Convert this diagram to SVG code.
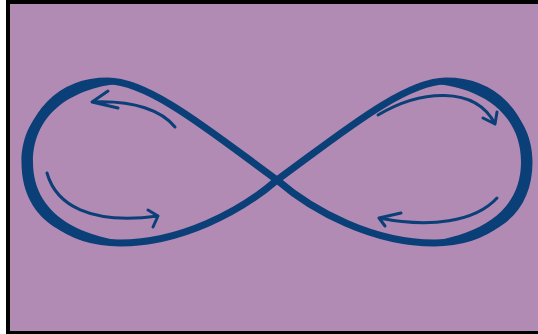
<svg xmlns="http://www.w3.org/2000/svg" xmlns:xlink="http://www.w3.org/1999/xlink" width="538" height="334" viewBox="0 0 538 334">
  <style>
    .loop{fill:none;stroke:#0b3f78;stroke-width:7;stroke-linecap:round;stroke-linejoin:round}
    .fill{fill:#0b3f78;stroke:none}
    .arr{fill:none;stroke:#0b3f78;stroke-width:3;stroke-linecap:round;stroke-linejoin:round}
  </style>
  <defs>
    <g id="half">
      <path class="loop" d="M277,180 C215,135 150,81 108,81 C60,81 27.5,115 27.5,162 C27.5,215 70,243 120,243 C180,243 240,212 277,180"/>
      <path class="fill" d="M135,82.5 C85,73 21.5,100 21.5,162 C21.5,222 70,250 150,244 C90,241 33,220 33,162 C33,112 75,84 135,82.5 Z"/>
    </g>
  </defs>
  <rect x="0" y="0" width="538" height="334" fill="#ffffff"/>
  <rect x="6" y="0" width="532" height="334" fill="#000000"/>
  <rect x="10" y="4" width="528" height="327" fill="#b18bb4"/>
  <g id="infinity">
    <use xlink:href="#half" href="#half"/>
    <use xlink:href="#half" href="#half" transform="matrix(-1 0 0 1 554 0)"/>
  </g>
  <g id="connectors">
    <path class="arr" d="M175,127 C162,111 135,100 92,102 M108,91 L92,102 L118,108"/>
    <path class="arr" d="M47,173 C56,205 90,225 158,216 M148,210 L158,216 L153,227"/>
    <path class="arr" d="M378,115 C420,90 475,85 495,124 M483,118 L495,124 L497,112"/>
    <path class="arr" d="M497,198 C475,222 430,228 379,218 M401,213 L379,218 L385,226"/>
  </g>
</svg>
